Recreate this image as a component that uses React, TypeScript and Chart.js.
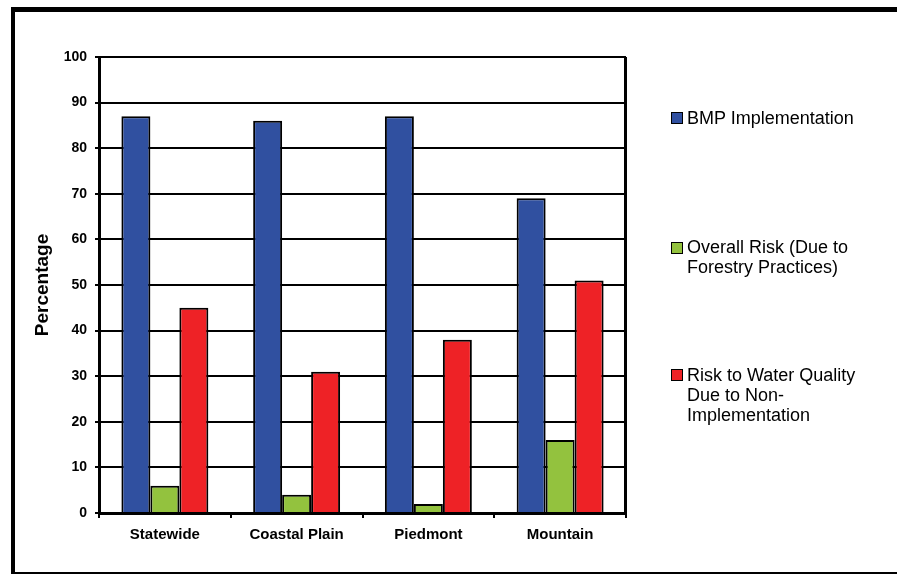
import React, { useEffect, useRef } from "react";
import { Chart, registerables } from "chart.js";

Chart.register(...registerables);

const categories = ["Statewide", "Coastal Plain", "Piedmont", "Mountain"];
const bmpImplementation = [87, 86, 87, 69];
const overallRisk = [6, 4, 2, 16];
const riskWaterQuality = [45, 31, 38, 51];
const seriesLabels = [
  "BMP Implementation",
  "Overall Risk (Due to Forestry Practices)",
  "Risk to Water Quality Due to Non-Implementation",
];
const yTitle = "Percentage";

const BLUE = "#3050A0";
const GREEN = "#93C23E";
const RED = "#EE2226";
const FONT = "'Liberation Sans', Arial, Helvetica, sans-serif";

const plotFrame = {
  id: "plotFrame",
  afterDraw(chart: any) {
    const { ctx, chartArea } = chart;
    ctx.save();
    ctx.strokeStyle = "#000";
    ctx.lineWidth = 3;
    ctx.beginPath();
    ctx.moveTo(chartArea.right - 0.5, chartArea.top);
    ctx.lineTo(chartArea.right - 0.5, chartArea.bottom + 1);
    ctx.stroke();
    ctx.restore();
  },
};

export default function App() {
  const ref = useRef<HTMLCanvasElement | null>(null);

  useEffect(() => {
    if (!ref.current) return;
    Chart.defaults.font.family = FONT;
    Chart.defaults.color = "#000";
    const chart = new Chart(ref.current, {
      type: "bar",
      data: {
        labels: categories,
        datasets: [
          { label: seriesLabels[0], data: bmpImplementation, backgroundColor: BLUE },
          { label: seriesLabels[1], data: overallRisk, backgroundColor: GREEN },
          { label: seriesLabels[2], data: riskWaterQuality, backgroundColor: RED },
        ].map((d) => ({
          ...d,
          borderColor: "#000",
          borderWidth: 2,
          categoryPercentage: 0.66,
          barPercentage: 1,
        })),
      },
      options: {
        responsive: false,
        animation: false,
        layout: { padding: { left: 27, top: 57, right: 271, bottom: 21 } },
        plugins: {
          legend: { display: false },
          tooltip: { enabled: false },
        },
        scales: {
          x: {
            grid: {
              display: true,
              drawOnChartArea: false,
              drawTicks: true,
              tickLength: 5,
              color: "#000",
              lineWidth: 2,
            },
            border: { display: true, color: "#000", width: 3 },
            ticks: {
              font: { size: 15, weight: "bold", family: FONT },
              color: "#000",
              padding: 8,
              maxRotation: 0,
            },
            afterFit: (s: any) => {
              s.height = 40;
            },
          },
          y: {
            min: 0,
            max: 100,
            ticks: {
              stepSize: 10,
              font: { size: 14, weight: "bold", family: FONT },
              color: "#000",
              padding: 8,
            },
            grid: {
              color: "#000",
              lineWidth: 2,
              drawTicks: true,
              tickLength: 4,
            },
            border: { display: true, color: "#000", width: 3 },
            title: {
              display: true,
              text: yTitle,
              font: { size: 19, weight: "bold", family: FONT },
              color: "#000",
              padding: { top: 4, bottom: 4 },
            },
            afterFit: (s: any) => {
              s.width = 72;
            },
          },
        },
      },
      plugins: [plotFrame],
    });
    return () => chart.destroy();
  }, []);

  const legendText: React.CSSProperties = {
    position: "absolute",
    left: 687,
    fontFamily: FONT,
    fontSize: 18,
    lineHeight: "20px",
    color: "#000",
    whiteSpace: "nowrap",
  };
  const swatch = (top: number, color: string): React.CSSProperties => ({
    position: "absolute",
    left: 671,
    top,
    width: 10,
    height: 10,
    background: color,
    border: "1px solid #000",
  });

  return (
    <div
      style={{
        position: "fixed",
        left: 0,
        top: 0,
        width: 897,
        height: 574,
        overflow: "hidden",
        background: "#fff",
      }}
    >
      <div
        style={{
          position: "absolute",
          left: 11,
          top: 7,
          width: 900,
          height: 560,
          borderLeft: "4px solid #000",
          borderTop: "5px solid #000",
          borderBottom: "4px solid #000",
        }}
      />
      <canvas
        ref={ref}
        width={897}
        height={574}
        style={{ position: "absolute", left: 0, top: 0, width: 897, height: 574 }}
      />
      <div style={swatch(112, BLUE)} />
      <div style={{ ...legendText, top: 108 }}>BMP Implementation</div>
      <div style={swatch(242, GREEN)} />
      <div style={{ ...legendText, top: 237 }}>
        Overall Risk (Due to
        <br />
        Forestry Practices)
      </div>
      <div style={swatch(369, RED)} />
      <div style={{ ...legendText, top: 365 }}>
        Risk to Water Quality
        <br />
        Due to Non-
        <br />
        Implementation
      </div>
    </div>
  );
}
